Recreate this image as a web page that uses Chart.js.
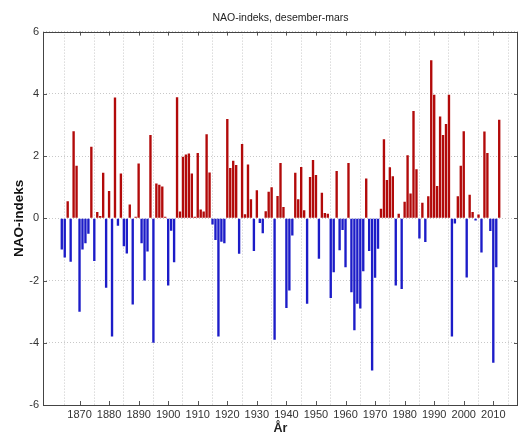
<!DOCTYPE html>
<html>
<head>
<meta charset="utf-8">
<script src="https://cdn.jsdelivr.net/npm/chart.js@4.4.1/dist/chart.umd.min.js"></script>
<style>
  html, body { margin: 0; padding: 0; background: #fff; }
  #wrap { width: 519px; height: 432px; }
</style>
</head>
<body>
<div id="wrap"><canvas id="naoChart" width="519" height="432"></canvas></div>
<script>
// NAO index (Dec-Mar)
const firstYear = 1864;
const naoValues = [
  -1.00, -1.26, 0.55, -1.40, 2.80, 1.69, -3.00, -1.00, -0.80, -0.50, // 1864-1873
  2.30, -1.37, 0.20, 0.07, 1.46, -2.23, 0.88, -3.80, 3.88, -0.24,     // 1874-1883
  1.44, -0.90, -1.13, 0.44, -2.77, 0.05, 1.76, -0.80, -2.00, -1.07,   // 1884-1893
  2.68, -4.00, 1.12, 1.08, 1.02, 0.05, -2.16, -0.40, -1.41, 3.89,     // 1894-1903
  0.22, 1.98, 2.05, 2.08, 1.44, 0.05, 2.10, 0.28, 0.22, 2.70,         // 1904-1913
  1.47, -0.20, -0.70, -3.80, -0.75, -0.80, 3.19, 1.62, 1.85, 1.71,    // 1914-1923
  -1.14, 2.39, 0.13, 1.73, 0.61, -1.05, 0.90, -0.15, -0.48, 0.23,     // 1924-1933
  0.85, 1.00, -3.90, 0.72, 1.78, 0.36, -2.88, -2.32, -0.55, 1.46,     // 1934-1943
  0.61, 1.65, 0.26, -2.75, 1.33, 1.87, 1.39, -1.30, 0.82, 0.17,       // 1944-1953
  0.15, -2.56, -1.73, 1.52, -1.03, -0.38, -1.57, 1.78, -2.38, -3.60,  // 1954-1963
  -2.75, -2.90, -1.70, 1.28, -1.05, -4.89, -1.91, -0.98, 0.31, 2.54,  // 1964-1973
  1.23, 1.64, 1.35, -2.16, 0.15, -2.27, 0.53, 2.03, 0.80, 3.45,       // 1974-1983
  1.58, -0.65, 0.50, -0.76, 0.71, 5.08, 3.97, 1.04, 3.27, 2.68,       // 1984-1993
  3.03, 3.97, -3.80, -0.17, 0.71, 1.69, 2.80, -1.90, 0.76, 0.20,      // 1994-2003
  -0.07, 0.12, -1.10, 2.79, 2.10, -0.41, -4.64, -1.57, 3.17           // 2004-2012
];
const years = naoValues.map((v, i) => firstYear + i);
const xTickYears = [1870, 1880, 1890, 1900, 1910, 1920, 1930, 1940, 1950, 1960, 1970, 1980, 1990, 2000, 2010];
const yTickValues = [-6, -4, -2, 0, 2, 4, 6];

const redFill = '#b20a0a';
const blueFill = '#1c1cc8';

// box around the plot and inward tick marks, like the original
const boxPlugin = {
  id: 'boxPlugin',
  afterDraw(chart) {
    const { ctx, chartArea } = chart;
    const xs = chart.scales.x, ys = chart.scales.y;
    ctx.save();
    ctx.strokeStyle = '#555';
    ctx.lineWidth = 1;
    ctx.beginPath();
    xTickYears.forEach((yr) => {
      const px = Math.round(xs.getPixelForValue(yr)) + 0.5;
      ctx.moveTo(px, chartArea.bottom); ctx.lineTo(px, chartArea.bottom - 4);
      ctx.moveTo(px, chartArea.top); ctx.lineTo(px, chartArea.top + 4);
    });
    yTickValues.forEach((v) => {
      const py = Math.round(ys.getPixelForValue(v)) + 0.5;
      ctx.moveTo(chartArea.left, py); ctx.lineTo(chartArea.left + 4, py);
      ctx.moveTo(chartArea.right, py); ctx.lineTo(chartArea.right - 4, py);
    });
    ctx.stroke();
    ctx.strokeStyle = '#444';
    ctx.strokeRect(Math.round(chartArea.left) + 0.5, Math.round(chartArea.top) + 0.5,
      Math.round(chartArea.right - chartArea.left) - 1, Math.round(chartArea.bottom - chartArea.top));
    ctx.restore();
  }
};

new Chart(document.getElementById('naoChart'), {
  type: 'bar',
  data: {
    datasets: [{
      label: 'NAO-indeks',
      data: years.map((yr, i) => ({ x: yr, y: naoValues[i] })),
      backgroundColor: naoValues.map((v) => (v >= 0 ? redFill : blueFill)),
      borderWidth: 0,
      barPercentage: 0.8,
      categoryPercentage: 1.0,
    }],
  },
  options: {
    responsive: false,
    animation: false,
    layout: { padding: { left: 0, right: 1, top: 0, bottom: 0 } },
    plugins: {
      legend: { display: false },
      tooltip: { enabled: false },
      title: {
        display: true,
        text: 'NAO-indeks, desember-mars',
        fullSize: false,
        color: '#222',
        font: { family: 'Liberation Sans', size: 10.5, weight: 'normal' },
        padding: { top: 12, bottom: 7 },
      },
    },
    scales: {
      x: {
        type: 'linear',
        min: 1863,
        max: 2013,
        afterBuildTicks: (scale) => { scale.ticks = xTickYears.map((v) => ({ value: v })); },
        afterFit: (scale) => { scale.height = 27; },
        ticks: {
          color: '#333',
          font: { family: 'Liberation Sans', size: 11 },
          padding: 3,
          maxRotation: 0,
          callback: (v) => String(v),
        },
        grid: { color: '#c8c8c8', tickLength: 0 },
        border: { display: false, dash: [1, 2] },
        title: {
          display: true,
          text: 'År',
          color: '#222',
          font: { family: 'Liberation Sans', size: 12.5, weight: 'bold' },
          padding: { top: 0, bottom: -4 },
        },
      },
      y: {
        min: -6,
        max: 6,
        afterBuildTicks: (scale) => { scale.ticks = yTickValues.map((v) => ({ value: v })); },
        afterFit: (scale) => { scale.width = 43; },
        ticks: {
          color: '#333',
          font: { family: 'Liberation Sans', size: 11 },
          padding: 4,
        },
        grid: { color: '#c8c8c8', tickLength: 0 },
        border: { display: false, dash: [1, 2] },
        title: {
          display: true,
          text: 'NAO-indeks',
          color: '#111',
          font: { family: 'Liberation Sans', size: 13.5, weight: 'bold' },
          padding: { top: 11, bottom: 0 },
        },
      },
    },
  },
  plugins: [boxPlugin],
});
</script>
</body>
</html>
